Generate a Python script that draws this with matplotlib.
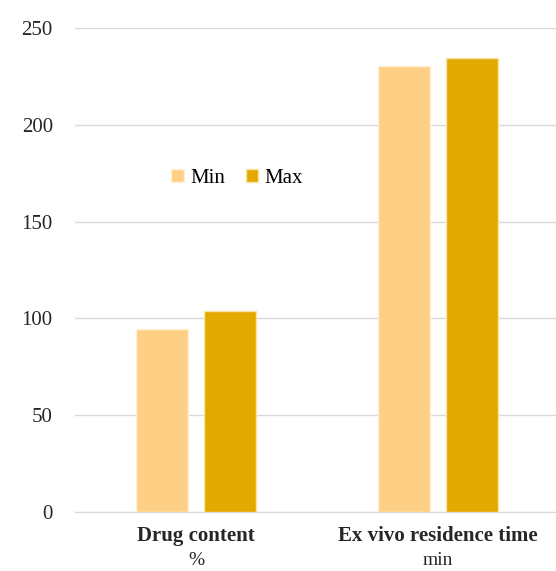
import matplotlib.pyplot as plt
import numpy as np

# values
categories = ['Drug content', 'Ex vivo residence time']
units = ['%', 'min']
min_vals = [94.5, 230.5]
max_vals = [104, 234.5]

fig = plt.figure(figsize=(5.56, 5.71), dpi=100)
# axes run a bit past the right edge, as in the reference
ax = fig.add_axes([75 / 556, 1 - 512 / 571, (559 - 75) / 556, (512 - 28) / 571])

x = np.arange(len(categories))
w = 0.215
ax.bar(x - 0.141, min_vals, width=w, color='#FED085', edgecolor='#FFF0D8', linewidth=1, label='Min', zorder=3)
ax.bar(x + 0.141, max_vals, width=w, color='#E2AA00', edgecolor='#FBE3A8', linewidth=1, label='Max', zorder=3)

ax.set_xlim(-0.5, 1.5)
ax.set_ylim(0, 250)
ax.set_yticks(range(0, 251, 50))
ax.grid(axis='y', color='#D9D9D9', linewidth=1, zorder=0)
for s in ['top', 'right', 'left']:
    ax.spines[s].set_visible(False)
ax.spines['bottom'].set_color('#D9D9D9')
ax.tick_params(length=0)
ax.tick_params(axis='y', pad=16)
for lab in ax.get_yticklabels():
    lab.set_fontfamily('Liberation Serif')
    lab.set_fontsize(15)
    lab.set_color('#262626')

ax.set_xticks(x)
ax.set_xticklabels([])
for xi, cat, u in zip(x, categories, units):
    ax.text(xi, -12.5, cat, ha='center', va='center', fontfamily='Liberation Serif',
            fontweight='bold', fontsize=15, color='#262626', clip_on=False)
    ax.text(xi, -25, u, ha='center', va='center', fontfamily='Liberation Serif',
            fontsize=14, color='#262626', clip_on=False)

ax.legend(loc='center', bbox_to_anchor=(237 / 556, 1 - 178 / 571), bbox_transform=fig.transFigure,
          ncol=2, frameon=False, prop={'family': 'Liberation Serif', 'size': 15},
          handlelength=0.6, handleheight=0.6, handletextpad=0.3, columnspacing=1.0)

fig.savefig('out.png', dpi=100)
